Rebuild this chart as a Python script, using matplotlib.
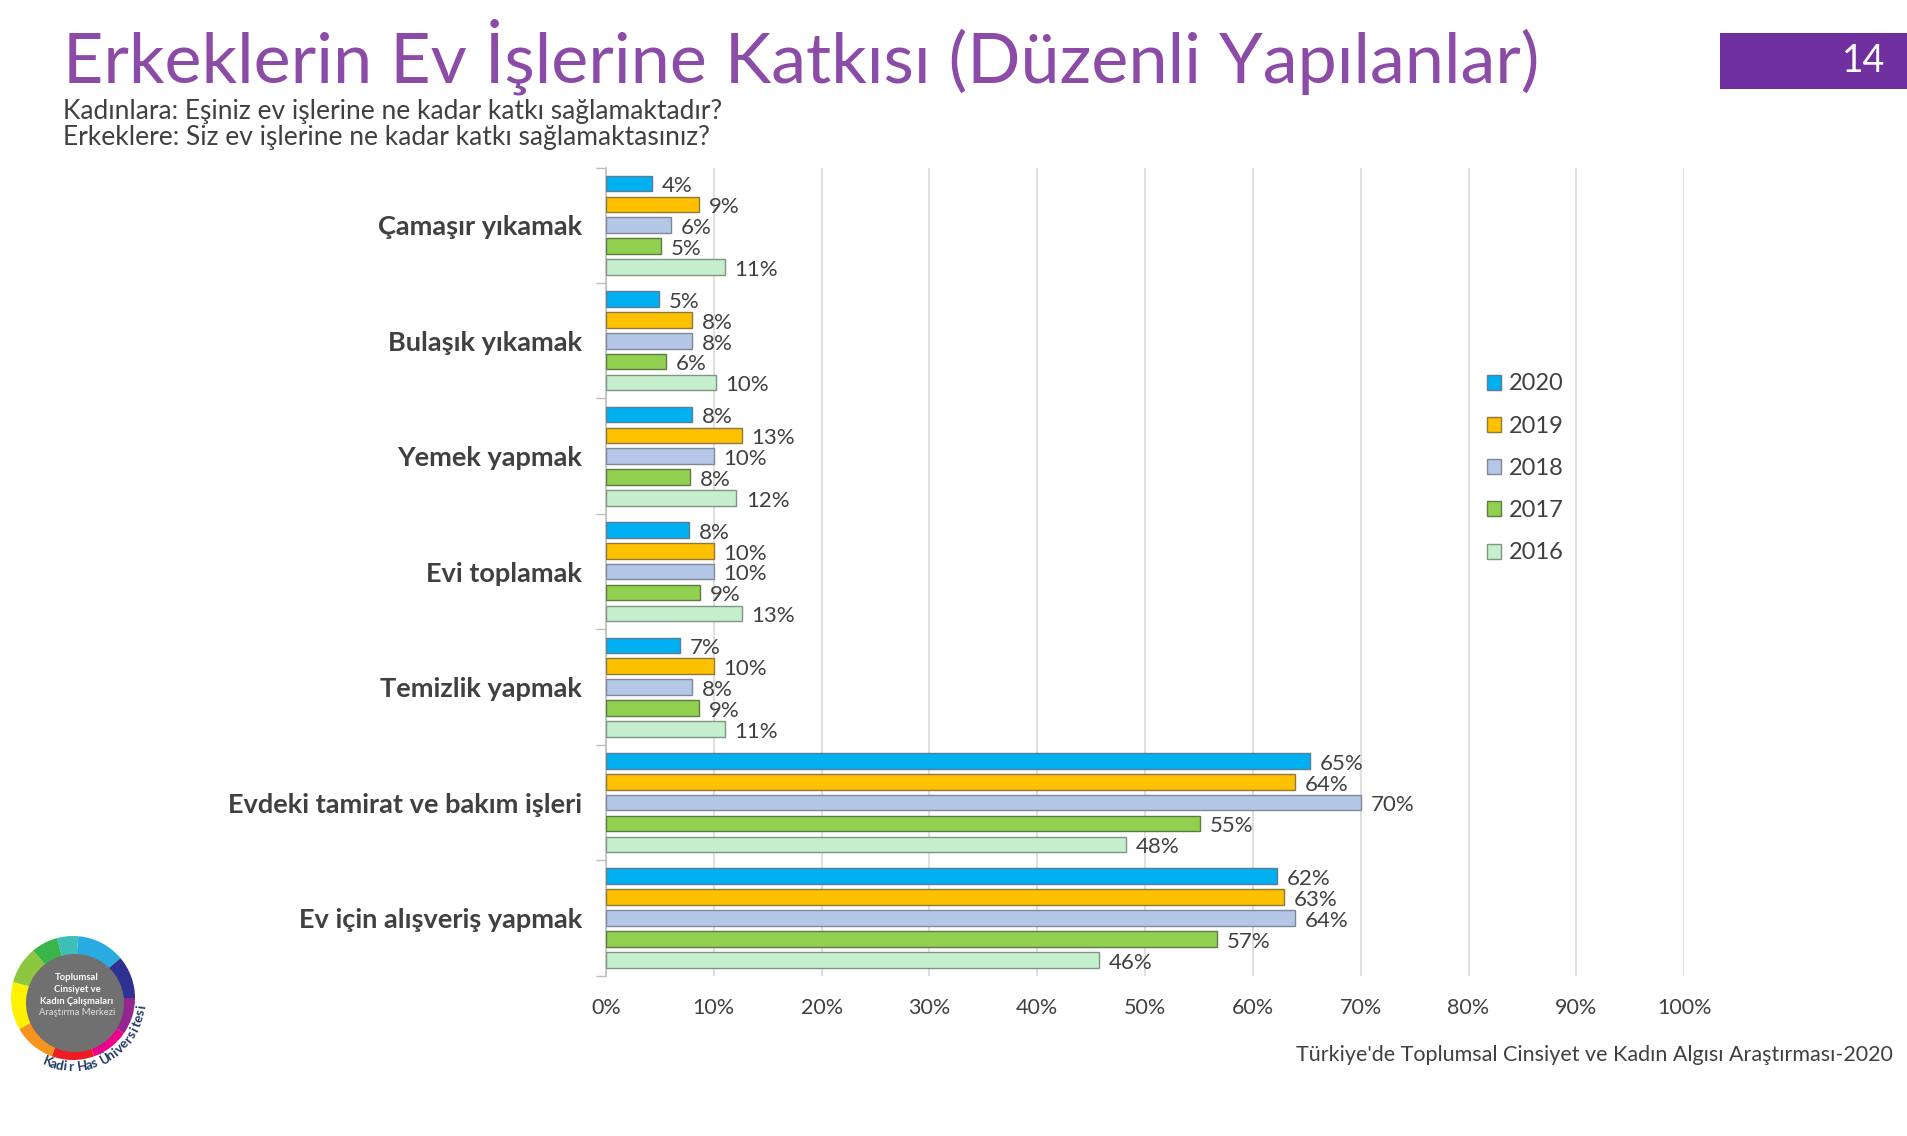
import numpy as np
import matplotlib
matplotlib.use("Agg")
import matplotlib.pyplot as plt
from matplotlib.patches import Patch, Wedge, Circle, Rectangle

plt.rcParams['font.family'] = ['Lato', 'DejaVu Sans']

# --- data ---
categories = ["Çamaşır yıkamak", "Bulaşık yıkamak", "Yemek yapmak", "Evi toplamak",
              "Temizlik yapmak", "Evdeki tamirat ve bakım işleri", "Ev için alışveriş yapmak"]
years = ["2020", "2019", "2018", "2017", "2016"]
v2020 = [4.3, 4.9, 8.0, 7.7, 6.9, 65.3, 62.2]
v2019 = [8.6, 8.0, 12.6, 10.0, 10.0, 63.9, 62.9]
v2018 = [6.0, 8.0, 10.0, 10.0, 8.0, 70.0, 63.9]
v2017 = [5.1, 5.6, 7.8, 8.7, 8.6, 55.1, 56.7]
v2016 = [11.0, 10.2, 12.1, 12.6, 11.0, 48.2, 45.7]
series = [v2020, v2019, v2018, v2017, v2016]
x_ticks = [0, 10, 20, 30, 40, 50, 60, 70, 80, 90, 100]
x_tick_labels = ["0%", "10%", "20%", "30%", "40%", "50%", "60%", "70%", "80%", "90%", "100%"]

colors = ["#00B0F0", "#FFC000", "#B4C7E7", "#92D050", "#C6EFCE"]
edges = ["#5A7F95", "#8C7A3C", "#7F8899", "#5E7A45", "#7F9580"]
text_col = "#404040"

W, H = 1908, 1136
fig = plt.figure(figsize=(W / 100, H / 100), dpi=100)

# decoration layer in pixel coordinates (y up)
deco = fig.add_axes([0, 0, 1, 1])
deco.set_xlim(0, W)
deco.set_ylim(0, H)
deco.axis("off")

# title and subtitles
fig.text(0.033, 0.950, "Erkeklerin Ev İşlerine Katkısı (Düzenli Yapılanlar)",
         fontsize=50.5, color="#8B4BA7", va="center", ha="left")
fig.text(0.033, 0.902, "Kadınlara: Eşiniz ev işlerine ne kadar katkı sağlamaktadır?",
         fontsize=19, color=text_col, va="center", ha="left")
fig.text(0.033, 0.879, "Erkeklere: Siz ev işlerine ne kadar katkı sağlamaktasınız?",
         fontsize=19, color=text_col, va="center", ha="left")

# page number box
deco.add_patch(Rectangle((1720, H - 89), 188, 56, color="#7030A0", lw=0))
deco.text(1864, H - 61, "14", color="white", fontsize=27, ha="center", va="center")

# source
fig.text(0.992, 0.071, "Türkiye'de Toplumsal Cinsiyet ve Kadın Algısı Araştırması-2020",
         fontsize=15.5, color=text_col, ha="right", va="center")

# logo
cx, cy, r_out = 73, H - 998, 62
ring = ["#3DBFB8", "#29ABE2", "#2E3192", "#92278F", "#EC008C", "#ED1C24",
        "#F7941D", "#FFF200", "#8DC63F", "#39B54A"]
ring_start = [85, 40, 0, -35, -70, -110, -150, 165, 130, 105]
ring_end = [105, 85, 40, 0, -35, -70, -110, 210, 165, 130]
for c, a0, a1 in zip(ring, ring_start, ring_end):
    deco.add_patch(Wedge((cx, cy), r_out, a0, a1, color=c, lw=0))
deco.add_patch(Circle((cx + 2, cy - 5), 49, color="#707070", lw=0))
logo_lines = [("Toplumsal", "bold", "white"), ("Cinsiyet ve", "bold", "white"),
              ("Kadın Çalışmaları", "bold", "white"), ("Araştırma Merkezi", "normal", "#E0E0E0")]
for k, (s, w, c) in enumerate(logo_lines):
    deco.text(cx + 4, cy + 20 - k * 11.5, s, color=c, fontsize=6.8,
              fontweight=w, ha="center", va="center")
arc_text = "Kadir Has Üniversitesi"
angles = np.linspace(248, 353, len(arc_text))
for ch, a in zip(arc_text, angles):
    t = np.deg2rad(a)
    deco.text(cx + 69 * np.cos(t), cy + 69 * np.sin(t), ch, color="#1F3864",
              fontsize=9.5, fontweight="bold",
              rotation=a + 90, ha="center", va="center", rotation_mode="anchor")

# --- main chart ---
ax = fig.add_axes([0.3176, 0.141, 0.5651, 0.7115])
ax.patch.set_alpha(0)
y = np.arange(len(categories))
slot = 0.181
bar_h = 0.135
for j, (vals, c, ec, yr) in enumerate(zip(series, colors, edges, years)):
    pos = y + (j - 2) * slot
    bars = ax.barh(pos, vals, height=bar_h, color=c, edgecolor=ec, linewidth=1.0,
                   label=yr, zorder=3)
    for b, v in zip(bars, vals):
        ax.annotate(f"{round(v)}%", (b.get_width(), b.get_y() + b.get_height() / 2),
                    xytext=(7, -2), textcoords="offset points", va="center", ha="left",
                    fontsize=16, color=text_col)

ax.set_xlim(0, 100)
ax.set_ylim(len(categories) - 0.5, -0.5)
ax.set_xticks(x_ticks)
ax.set_xticklabels(x_tick_labels, fontsize=15.5, color=text_col)
ax.tick_params(axis="x", length=0, pad=16)
ax.set_yticks(y)
ax.set_yticklabels(categories, fontsize=19.5, fontweight="bold", color=text_col)
ax.tick_params(axis="y", which="major", length=0, pad=17)
ax.set_yticks(np.arange(-0.5, len(categories)), minor=True)
ax.tick_params(axis="y", which="minor", length=7, color="#BFBFBF", width=1)
ax.grid(axis="x", color="#D9D9D9", linewidth=1.2, zorder=0)
for s in ["top", "right", "bottom"]:
    ax.spines[s].set_visible(False)
ax.spines["left"].set_color("#BFBFBF")
ax.spines["left"].set_linewidth(1.2)

handles = [Patch(facecolor=c, edgecolor=ec, label=yr) for c, ec, yr in zip(colors, edges, years)]
fig.legend(handles=handles, loc="upper left", bbox_to_anchor=(0.768, 0.690),
           frameon=False, fontsize=17, handlelength=0.6, handleheight=0.6,
           handletextpad=0.35, labelspacing=0.9, labelcolor=text_col)

fig.savefig("out.png", dpi=100)
